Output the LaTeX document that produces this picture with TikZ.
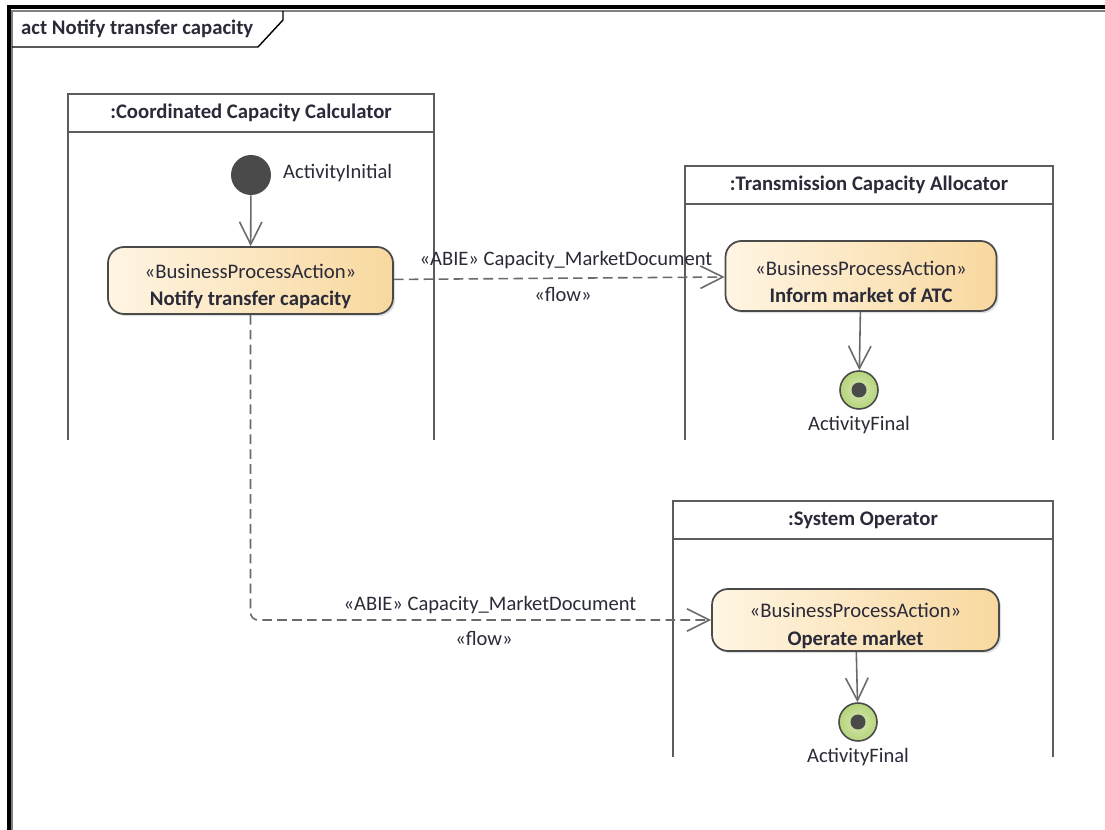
\documentclass[tikz,border=0pt]{standalone}
\usepackage{fontspec}
\setmainfont{Carlito}
\usetikzlibrary{arrows.meta,shadows}

\definecolor{lanegray}{HTML}{5C5C5C}
\definecolor{flowgray}{HTML}{6A6A6A}
\definecolor{dotgray}{HTML}{4A4A4A}
\definecolor{actleft}{HTML}{FFF5E3}
\definecolor{actright}{HTML}{F8D89E}
\definecolor{finalgreen}{HTML}{B5D479}
\definecolor{textdark}{HTML}{2A2A38}

\newcommand{\actstrut}{\rule{0pt}{15pt}}

\tikzset{
  lane/.style={draw=lanegray, line width=1.3pt},
  action/.style={draw=dotgray, line width=1pt, rounded corners=0.32cm,
    left color=actleft, right color=actright, align=center, text=textdark,
    inner ysep=0pt, font=\fontsize{11.8}{15.6}\selectfont,
    drop shadow={shadow xshift=1.2pt, shadow yshift=-1.2pt, opacity=0.25}},
  control/.style={draw=flowgray, line width=0.9pt,
    -{Straight Barb[length=0.45cm, width=0.45cm]}},
  objflow/.style={control, dash pattern=on 5.5pt off 3pt},
  flowtext/.style={text=textdark, font=\fontsize{11.7}{13}\selectfont},
}

\begin{document}
\begin{tikzpicture}[x=0.02cm, y=-0.02cm]
\useasboundingbox (0,0) rectangle (1105,830);

% frame and tab
\draw[line width=2.2pt] (9,830) -- (9,7) -- (1105,7);
\draw[gray, line width=0.6pt] (12,830) -- (12,11) -- (1105,11);
\draw[line width=0.8pt] (12,47) -- (258,47) -- (283,20) -- (283,11);
\node[anchor=west, text=textdark, font=\fontsize{11.8}{13}\selectfont\bfseries] (frame) at (15,29) {act Notify transfer capacity};

% swimlanes
\foreach \l/\r/\t/\b/\name in {68/434/94/440/Coordinated Capacity Calculator,
    685/1053/166/440/Transmission Capacity Allocator,
    673/1053/501/757/System Operator}
{
    \draw[lane] (\l,\b) -- (\l,\t) -- (\r,\t) -- (\r,\b);
    \draw[lane] (\l,\t+38) -- (\r,\t+38);
    \node[text=textdark, font=\fontsize{11.8}{13}\selectfont\bfseries] (lane\l) at ({(\l+\r)/2},\t+19) {:\name};
}

% initial node
\node[circle, fill=dotgray, minimum size=0.8cm, inner sep=0pt] (init) at (251,175) {};
\node[anchor=west, flowtext] (initlabel) at (277,173) {ActivityInitial};

% actions
\node[action, minimum width=5.7cm, minimum height=1.34cm] (notify) at (250.5,280.5)
    {\actstrut«BusinessProcessAction»\\\textbf{Notify transfer capacity}};
\node[action, minimum width=5.42cm, minimum height=1.4cm] (inform) at (861,276)
    {\actstrut«BusinessProcessAction»\\\textbf{Inform market of ATC}};
\node[action, minimum width=5.74cm, minimum height=1.24cm] (operate) at (855.5,620)
    {\actstrut«BusinessProcessAction»\\\textbf{Operate market}};

% final nodes
\foreach \n/\x/\y in {final1/859/390, final2/858/722}
{
    \node[circle, draw=dotgray, line width=0.9pt, inner color=finalgreen!55,
        outer color=finalgreen, minimum size=0.76cm, inner sep=0pt] (\n) at (\x,\y) {};
    \node[circle, fill=dotgray, minimum size=0.3cm, inner sep=0pt] (\n dot) at (\n) {};
    \node[below=0pt, flowtext] (\n label) at (\n.south) {ActivityFinal};
}

% control flows
\draw[control] (init) -- (notify);
\draw[control] (inform) -- (final1);
\draw[control] (operate) -- (final2);

% object flows
\draw[objflow] (notify) -- (inform);
\node[flowtext] (abie1) at (566,260) {«ABIE» Capacity\_MarketDocument};
\node[flowtext] (flow1) at (563,294) {«flow»};
\draw[objflow, rounded corners=0.15cm] (notify.south) |- (operate.west);
\node[flowtext] (abie2) at (490,605) {«ABIE» Capacity\_MarketDocument};
\node[flowtext] (flow2) at (484,638) {«flow»};
\end{tikzpicture}
\end{document}
